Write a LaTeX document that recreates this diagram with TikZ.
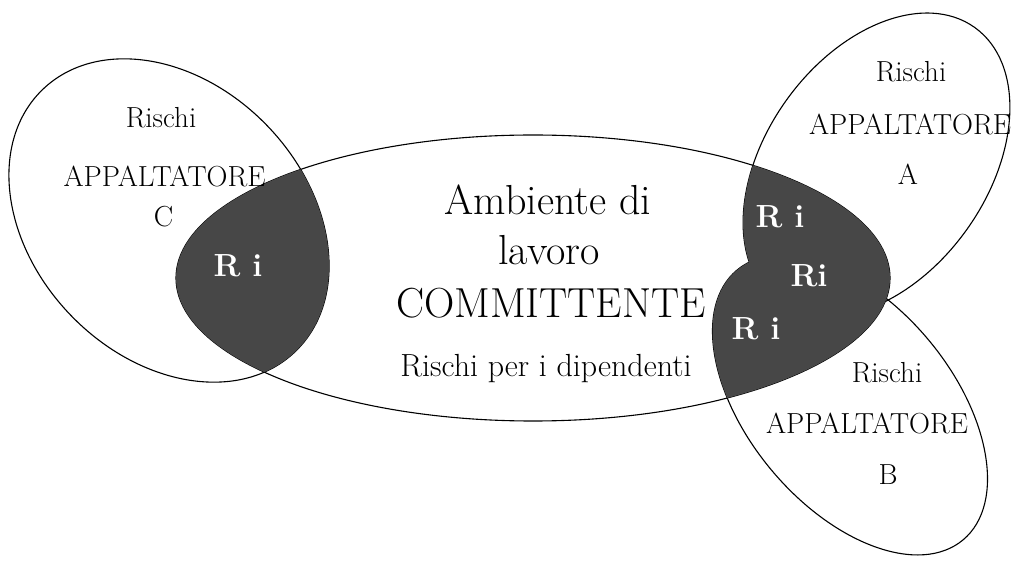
\documentclass[tikz,border=0pt]{standalone}
\begin{document}
\begin{tikzpicture}[x=1pt,y=1pt]
\tikzset{
 ell/.style={draw=black, line width=1.1pt},
 dark/.style={fill=black!72},
 lbl/.style={anchor=base, inner sep=0pt, font=\fontsize{29}{33}\selectfont},
 big/.style={anchor=base, inner sep=0pt, font=\fontsize{42}{46}\selectfont},
 mid/.style={anchor=base, inner sep=0pt, font=\fontsize{32}{36}\selectfont},
 ri/.style={anchor=base, inner sep=0pt, text=white, font=\bfseries\fontsize{32}{36}\selectfont},
}
\useasboundingbox (0,0) rectangle (1015,560);
% outlines
\draw[ell] (533,282) ellipse [x radius=357, y radius=143];
\draw[ell, rotate around={-46:(169,339.5)}] (169,339.5) ellipse [x radius=182, y radius=136.5];
\draw[ell, rotate around={54.5:(876.5,395)}] (876.5,395) ellipse [x radius=169, y radius=111];
\draw[ell, rotate around={-50:(850,155)}] (850,155) ellipse [x radius=176, y radius=102];
% dark intersections
\begin{scope}
\clip (533,282) ellipse [x radius=357, y radius=143];
\fill[dark, rotate around={-46:(169,339.5)}] (169,339.5) ellipse [x radius=182, y radius=136.5];
\fill[dark, rotate around={54.5:(876.5,395)}] (876.5,395) ellipse [x radius=169, y radius=111];
\fill[dark, rotate around={-50:(850,155)}] (850,155) ellipse [x radius=176, y radius=102];
\end{scope}
% texts C
\node[lbl] (cr) at (161,432) {Rischi};
\node[lbl] (ca) at (164.5,373) {APPALTATORE};
\node[lbl] (cc) at (163.5,333) {C};
% texts A
\node[lbl] (ar) at (911,478) {Rischi};
\node[lbl] (aa) at (910,425) {APPALTATORE};
\node[lbl] (al) at (908,375) {A};
% texts B
\node[lbl] (br) at (887,177) {Rischi};
\node[lbl] (ba) at (867,126) {APPALTATORE};
\node[lbl] (bl) at (888,75) {B};
% central
\node[big] (m1) at (548,345) {Ambiente di};
\node[big] (m2) at (549,295) {lavoro};
\node[big] (m3) at (551,242) {COMMITTENTE};
\node[mid] (m4) at (546,183) {Rischi per i dipendenti};
% Ri labels
\node[ri] (ri1) at (238,283) {R i};
\node[ri] (ri2) at (780,332) {R i};
\node[ri] (ri3) at (809,273) {Ri};
\node[ri] (ri4) at (756,220) {R i};
\end{tikzpicture}
\end{document}
